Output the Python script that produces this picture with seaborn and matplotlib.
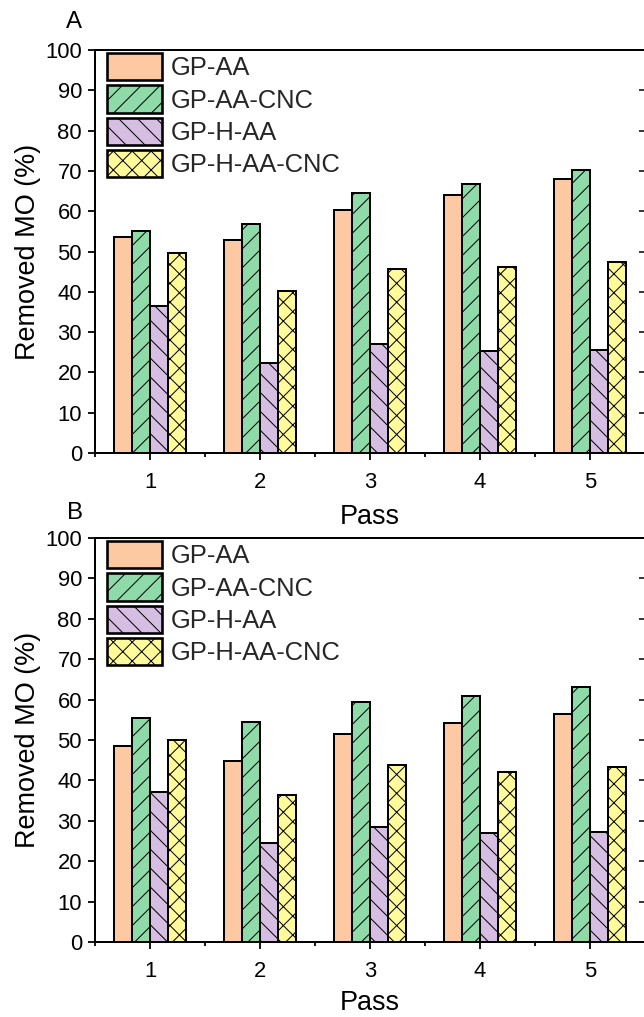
import numpy as np
import pandas as pd
import matplotlib
matplotlib.use("Agg")
import matplotlib.pyplot as plt
import seaborn as sns
from matplotlib.ticker import FixedLocator

# ---------------- data ----------------
passes = ["1", "2", "3", "4", "5"]
series = ["GP-AA", "GP-AA-CNC", "GP-H-AA", "GP-H-AA-CNC"]

a_gp_aa = [53.5, 52.8, 60.3, 63.9, 68.1]
a_gp_aa_cnc = [55.0, 56.7, 64.6, 66.8, 70.1]
a_gp_h_aa = [36.6, 22.4, 27.1, 25.4, 25.6]
a_gp_h_aa_cnc = [49.6, 40.3, 45.7, 46.2, 47.3]

b_gp_aa = [48.4, 44.9, 51.5, 54.1, 56.4]
b_gp_aa_cnc = [55.5, 54.5, 59.5, 61.0, 63.0]
b_gp_h_aa = [37.1, 24.5, 28.5, 27.0, 27.2]
b_gp_h_aa_cnc = [50.1, 36.4, 43.8, 42.0, 43.2]

y_ticks = [0, 10, 20, 30, 40, 50, 60, 70, 80, 90, 100]
panel_labels = ["A", "B"]

colors = ["#FDC9A3", "#8EDBA9", "#D6BDE2", "#FFFB9B"]
hatches = ["", "///", "\\\\\\", "xxx"]

# ---------------- setup ----------------
DPI = 170
W, H = 644, 1017
P = 72.0 / DPI  # points per pixel

sns.set_style("ticks")
plt.rcParams["font.family"] = ["Liberation Sans", "DejaVu Sans"]
plt.rcParams["hatch.linewidth"] = 1.0 * P
plt.rcParams["hatch.color"] = "#333333"


def make_df(vals):
    rows = []
    for s, v in zip(series, vals):
        for p, y in zip(passes, v):
            rows.append({"Pass": p, "Series": s, "Removed": y})
    return pd.DataFrame(rows)


fig = plt.figure(figsize=(W / DPI, H / DPI), dpi=DPI)
fig.patch.set_facecolor("white")

panels = [
    (make_df([a_gp_aa, a_gp_aa_cnc, a_gp_h_aa, a_gp_h_aa_cnc]), 50, 453, (74, 22), 517),
    (make_df([b_gp_aa, b_gp_aa_cnc, b_gp_h_aa, b_gp_h_aa_cnc]), 538, 942, (75, 513), 1003),
]

left_px, right_px = 95, 645

for (df, top_px, bot_px, lab_xy, pass_y), plab in zip(panels, panel_labels):
    hpx = bot_px - top_px
    ax = fig.add_axes([left_px / W, 1 - bot_px / H, (right_px - left_px) / W, hpx / H])
    sns.barplot(data=df, x="Pass", y="Removed", hue="Series", order=passes,
                hue_order=series, palette=colors, width=0.656, errorbar=None,
                edgecolor="black", linewidth=2.0 * P, saturation=1, ax=ax,
                legend=False)
    for cont, h in zip(ax.containers, hatches):
        for bar in cont.patches:
            bar.set_hatch(h)

    ax.set_xlim(-0.5, 4.5)
    ax.set_ylim(0, 100)
    ax.yaxis.set_major_locator(FixedLocator(y_ticks))
    ax.xaxis.set_minor_locator(FixedLocator([-0.5, 0.5, 1.5, 2.5, 3.5, 4.5]))

    for sp in ax.spines.values():
        sp.set_visible(True)
        sp.set_linewidth(2.0 * P)
        sp.set_color("black")

    ax.tick_params(axis="y", which="major", direction="out", length=7 * P,
                   width=1.8 * P, labelsize=22 * P, pad=6 * P, colors="black")
    ax.tick_params(axis="x", which="major", direction="out", length=7 * P,
                   width=1.8 * P, labelsize=22 * P, pad=12 * P, colors="black")
    ax.tick_params(axis="x", which="minor", direction="out", length=4 * P,
                   width=1.8 * P, colors="black")

    sec = ax.secondary_yaxis("right")
    sec.set_yticks(y_ticks)
    sec.tick_params(direction="in", length=6 * P, width=1.8 * P, labelright=False)

    ax.set_xlabel("Pass", fontsize=27 * P, color="black")
    ax.set_ylabel("Removed MO (%)", fontsize=27 * P, color="black")
    ax.xaxis.label.set_va("center")
    ax.yaxis.label.set_va("center")
    ax.xaxis.set_label_coords(0.5, -(pass_y - bot_px) / hpx)
    ax.yaxis.set_label_coords((28 - left_px) / (right_px - left_px), 0.5)

    leg = ax.legend(ax.containers, series, loc="upper left",
                    bbox_to_anchor=((107 - left_px) / (right_px - left_px), 1 - 3 / hpx),
                    frameon=False, borderpad=0, borderaxespad=0,
                    handlelength=2.15, handleheight=1.27, labelspacing=0.2,
                    handletextpad=0.36, fontsize=25.5 * P)
    for p in leg.get_patches():
        p.set_linewidth(2.6 * P)

    fig.text(lab_xy[0] / W, 1 - lab_xy[1] / H, plab, ha="center", va="center",
             fontsize=24 * P, color="black")

fig.savefig("out.png", dpi=DPI, facecolor="white")
